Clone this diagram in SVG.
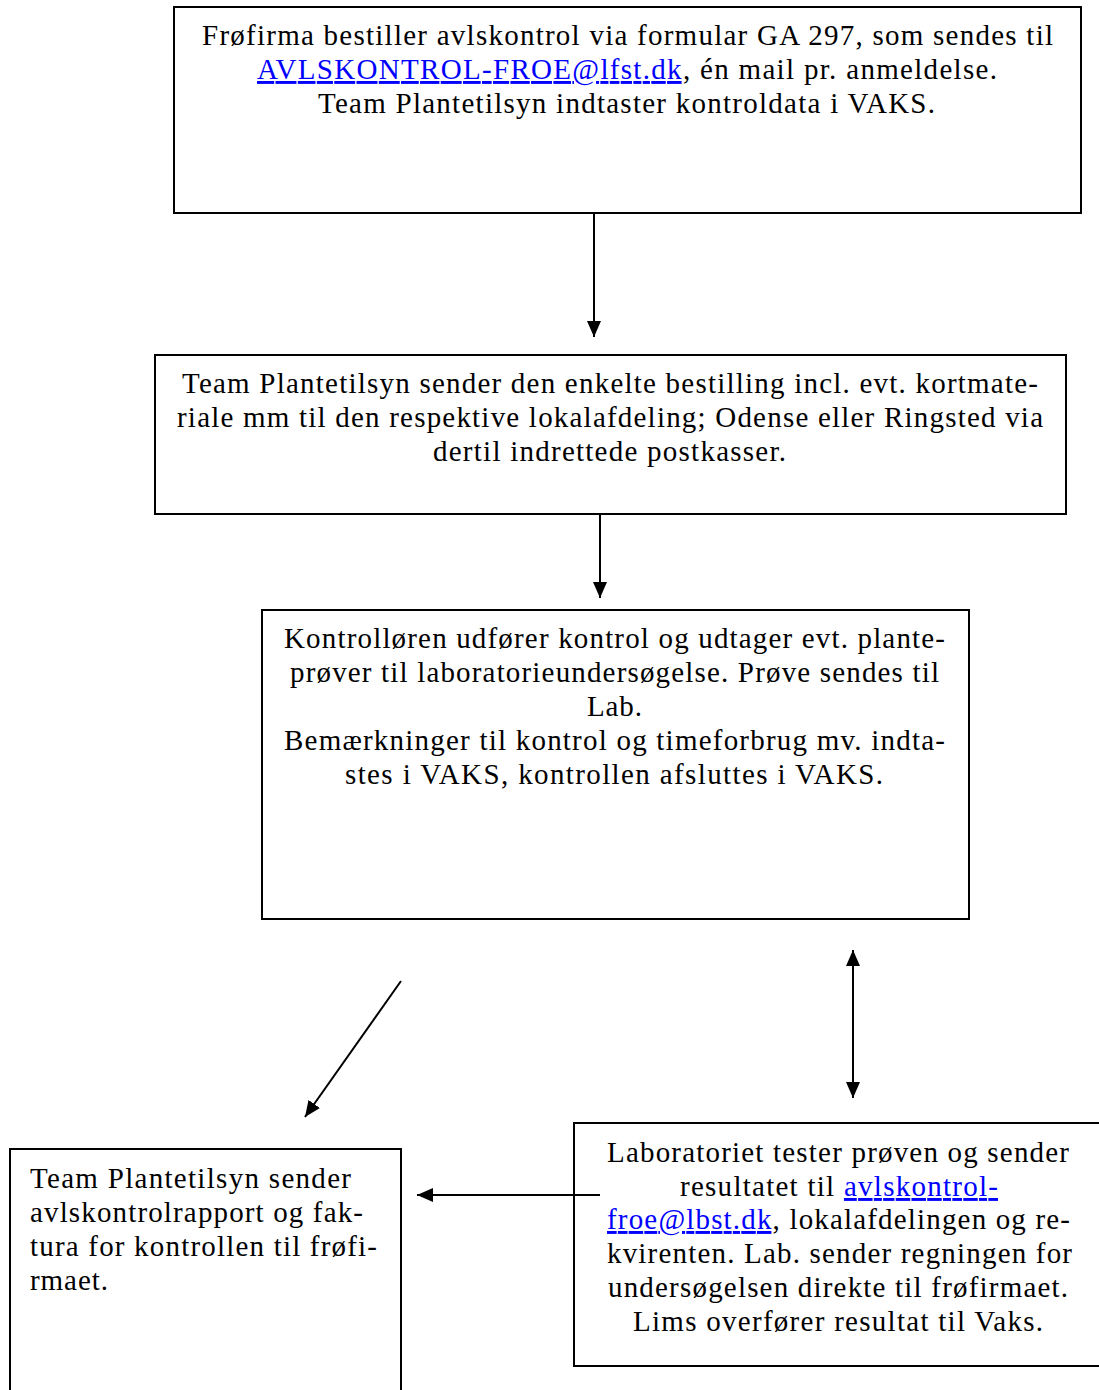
<svg xmlns="http://www.w3.org/2000/svg" width="1099" height="1390" viewBox="0 0 1099 1390">
<style>
.box{fill:#fff;stroke:#000;stroke-width:2}
.t{font-family:"Liberation Serif","Times New Roman",serif;font-size:29px;fill:#000}
.link{fill:#0000ff;text-decoration:underline}
.con{stroke:#000;stroke-width:2;fill:none}
</style>
<defs>
<marker id="ah" markerUnits="userSpaceOnUse" markerWidth="16" markerHeight="16" viewBox="0 0 16 16" refX="16" refY="8" orient="auto-start-reverse">
<path d="M0,1 L16,8 L0,15 Z" fill="#000"/>
</marker>
</defs>
<rect width="1099" height="1390" fill="#fff"/>
<g id="n1">
<rect class="box" x="174" y="7" width="907" height="206"/>
<text class="t" x="202" y="45" textLength="851" lengthAdjust="spacing">Frøfirma bestiller avlskontrol via formular GA 297, som sendes til</text>
<text class="t" x="257" y="79" textLength="740" lengthAdjust="spacing"><tspan class="link">AVLSKONTROL-FROE@lfst.dk</tspan>, én mail pr. anmeldelse.</text>
<text class="t" x="318" y="113" textLength="617" lengthAdjust="spacing">Team Plantetilsyn indtaster kontroldata i VAKS.</text>
</g>
<g id="n2">
<rect class="box" x="155" y="355" width="911" height="159"/>
<text class="t" x="182" y="393" textLength="856" lengthAdjust="spacing">Team Plantetilsyn sender den enkelte bestilling incl. evt. kortmate-</text>
<text class="t" x="177" y="427" textLength="866" lengthAdjust="spacing">riale mm til den respektive lokalafdeling; Odense eller Ringsted via</text>
<text class="t" x="433" y="461" textLength="353" lengthAdjust="spacing">dertil indrettede postkasser.</text>
</g>
<g id="n3">
<rect class="box" x="262" y="610" width="707" height="309"/>
<text class="t" x="284" y="648" textLength="661" lengthAdjust="spacing">Kontrolløren udfører kontrol og udtager evt. plante-</text>
<text class="t" x="290" y="682" textLength="649" lengthAdjust="spacing">prøver til laboratorieundersøgelse. Prøve sendes til</text>
<text class="t" x="587" y="716" textLength="55" lengthAdjust="spacing">Lab.</text>
<text class="t" x="284" y="750" textLength="661" lengthAdjust="spacing">Bemærkninger til kontrol og timeforbrug mv. indta-</text>
<text class="t" x="345" y="784" textLength="538" lengthAdjust="spacing">stes i VAKS, kontrollen afsluttes i VAKS.</text>
</g>
<g id="n4">
<rect class="box" x="10" y="1149" width="391" height="250"/>
<text class="t" x="30" y="1188" textLength="321" lengthAdjust="spacing">Team Plantetilsyn sender</text>
<text class="t" x="30" y="1222" textLength="333" lengthAdjust="spacing">avlskontrolrapport og fak-</text>
<text class="t" x="30" y="1256" textLength="347" lengthAdjust="spacing">tura for kontrollen til frøfi-</text>
<text class="t" x="30" y="1290" textLength="78" lengthAdjust="spacing">rmaet.</text>
</g>
<g id="n5">
<rect class="box" x="574" y="1123" width="535" height="243"/>
<text class="t" x="607" y="1162" textLength="462" lengthAdjust="spacing">Laboratoriet tester prøven og sender</text>
<text class="t" x="680" y="1196" textLength="318" lengthAdjust="spacing">resultatet til <tspan class="link">avlskontrol-</tspan></text>
<text class="t" x="607" y="1229" textLength="463" lengthAdjust="spacing"><tspan class="link">froe@lbst.dk</tspan>, lokalafdelingen og re-</text>
<text class="t" x="607" y="1263" textLength="465" lengthAdjust="spacing">kvirenten. Lab. sender regningen for</text>
<text class="t" x="608" y="1297" textLength="460" lengthAdjust="spacing">undersøgelsen direkte til frøfirmaet.</text>
<text class="t" x="633" y="1331" textLength="410" lengthAdjust="spacing">Lims overfører resultat til Vaks.</text>
</g>
<g id="connectors">
<line class="con" x1="594" y1="213" x2="594" y2="337" marker-end="url(#ah)"/>
<line class="con" x1="600" y1="514" x2="600" y2="598" marker-end="url(#ah)"/>
<line class="con" x1="401" y1="981" x2="305" y2="1117" marker-end="url(#ah)"/>
<line class="con" x1="853" y1="950" x2="853" y2="1098" marker-start="url(#ah)" marker-end="url(#ah)"/>
<line class="con" x1="600" y1="1195" x2="417" y2="1195" marker-end="url(#ah)"/>
</g>
</svg>
